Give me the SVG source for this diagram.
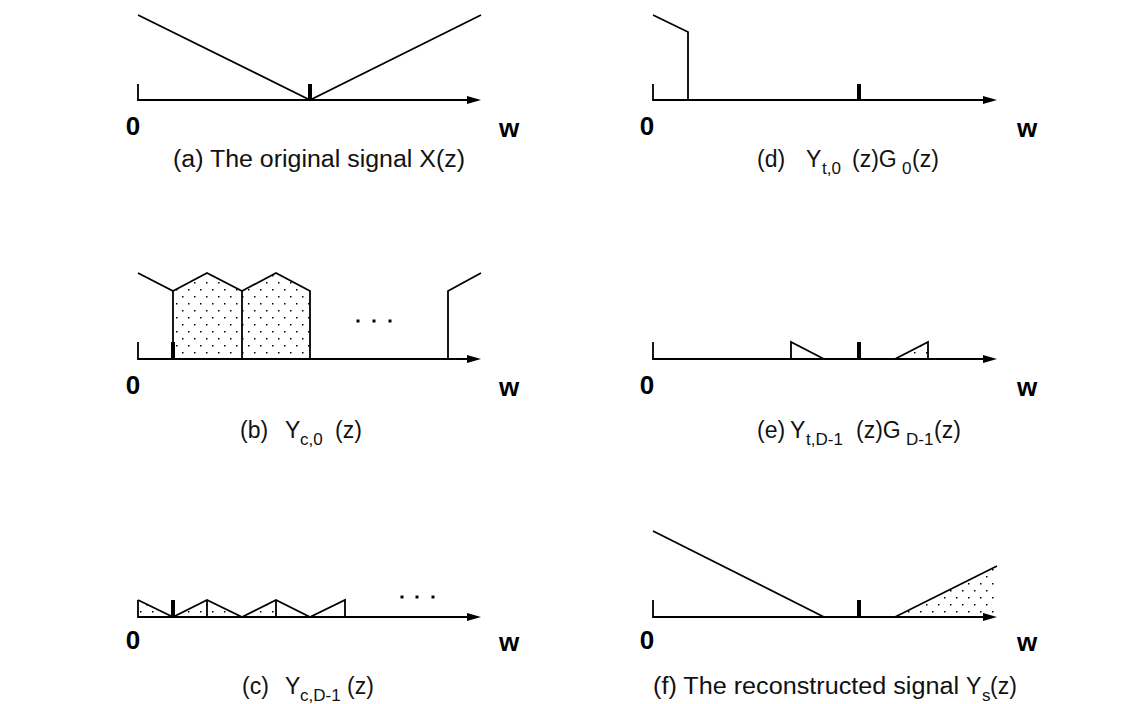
<svg xmlns="http://www.w3.org/2000/svg" width="1143" height="704" viewBox="0 0 1143 704">
<style>
.ln{fill:none;stroke:#000;stroke-width:1.8;stroke-linejoin:miter}
.tk{fill:#000}
.ah{fill:#000}
.dot{fill:url(#dots);stroke:none}
.lbl{font-family:"Liberation Sans",Arial,sans-serif;font-weight:bold;font-size:26px;fill:#000;text-anchor:middle}
.cap{font-family:"Liberation Sans",Arial,sans-serif;font-size:23px;fill:#111}
.sub{font-size:17px}
</style>
<defs>
<pattern id="dots" x="0" y="0" width="12" height="14" patternUnits="userSpaceOnUse">
<rect x="2" y="2" width="1.5" height="1.5" fill="#000"/>
<rect x="8" y="9" width="1.5" height="1.5" fill="#000"/>
</pattern>
</defs>
<rect width="1143" height="704" fill="#fff"/>

<g id="panel-a">
<polyline class="ln" points="138,84 138,100 470,100"/>
<polygon class="ah" points="481,100 467,96 467,104"/>
<rect class="tk" x="308" y="84" width="4" height="16"/>
<polyline class="ln" points="138,15 310,100 481,15"/>
<text class="lbl" x="133" y="135">0</text>
<text class="lbl" x="509" y="137">w</text>
<text class="cap" x="173" y="167" textLength="292" lengthAdjust="spacingAndGlyphs">(a)  The original signal X(z)</text>
</g>

<g id="panel-d">
<polyline class="ln" points="653,84 653,100 986,100"/>
<polygon class="ah" points="997,100 983,96 983,104"/>
<rect class="tk" x="857" y="84" width="4" height="16"/>
<polyline class="ln" points="653,15 688,32 688,100"/>
<text class="lbl" x="647" y="135">0</text>
<text class="lbl" x="1027" y="137">w</text>
<text class="cap" y="167"><tspan x="757">(d)</tspan><tspan x="806">Y</tspan><tspan class="sub" x="822" dy="7">t,0</tspan><tspan x="852" dy="-7">(z)G</tspan><tspan class="sub" x="902" dy="7">0</tspan><tspan x="912" dy="-7">(z)</tspan></text>
</g>

<g id="panel-b">
<polygon class="dot" points="173,359 173,291 207,273 242,291 276,273 310,291 310,359"/>
<polyline class="ln" points="138,342 138,359 470,359"/>
<polygon class="ah" points="481,359 467,355 467,363"/>
<polyline class="ln" points="138,273 173,291 207,273 242,291 276,273 310,291 310,359"/>
<line class="ln" x1="173" y1="291" x2="173" y2="359"/>
<line class="ln" x1="242" y1="291" x2="242" y2="359"/>
<rect class="tk" x="171" y="342" width="4" height="17"/>
<rect class="tk" x="356.5" y="319.5" width="3" height="3"/>
<rect class="tk" x="372.5" y="319.5" width="3" height="3"/>
<rect class="tk" x="388.5" y="319.5" width="3" height="3"/>
<polyline class="ln" points="448,359 448,291 481,273"/>
<text class="lbl" x="133" y="394">0</text>
<text class="lbl" x="509" y="396">w</text>
<text class="cap" y="438"><tspan x="240">(b)</tspan><tspan x="285">Y</tspan><tspan class="sub" x="300" dy="7">c,0</tspan><tspan x="335" dy="-7">(z)</tspan></text>
</g>

<g id="panel-e">
<polygon class="dot" points="895,359 928,342 928,359"/>
<polyline class="ln" points="653,342 653,359 986,359"/>
<polygon class="ah" points="997,359 983,355 983,363"/>
<polyline class="ln" points="791,359 791,342 824,359"/>
<rect class="tk" x="857" y="342" width="4" height="17"/>
<polyline class="ln" points="895,359 928,342 928,359"/>
<text class="lbl" x="647" y="394">0</text>
<text class="lbl" x="1027" y="396">w</text>
<text class="cap" y="438"><tspan x="757">(e)</tspan><tspan x="790">Y</tspan><tspan class="sub" x="806" dy="7">t,D-1</tspan><tspan x="856" dy="-7">(z)G</tspan><tspan class="sub" x="906" dy="7">D-1</tspan><tspan x="934" dy="-7">(z)</tspan></text>
</g>

<g id="panel-c">
<polygon class="dot" points="138,617 138,600 173,617 207,600 242,617 276,600 276,617"/>
<polyline class="ln" points="138,600 138,617 470,617"/>
<polygon class="ah" points="481,617 467,613 467,621"/>
<polyline class="ln" points="138,600 173,617 207,600 242,617 276,600 310,617 345,600 345,617"/>
<line class="ln" x1="207" y1="600" x2="207" y2="617"/>
<line class="ln" x1="276" y1="600" x2="276" y2="617"/>
<rect class="tk" x="171" y="600" width="4" height="17"/>
<rect class="tk" x="400.5" y="595.5" width="3" height="3"/>
<rect class="tk" x="415.5" y="595.5" width="3" height="3"/>
<rect class="tk" x="431.5" y="595.5" width="3" height="3"/>
<text class="lbl" x="133" y="649">0</text>
<text class="lbl" x="509" y="651">w</text>
<text class="cap" y="694"><tspan x="242">(c)</tspan><tspan x="285">Y</tspan><tspan class="sub" x="300" dy="7">c,D-1</tspan><tspan x="347" dy="-7">(z)</tspan></text>
</g>

<g id="panel-f">
<polygon class="dot" points="895,617 997,566 997,617"/>
<polyline class="ln" points="653,600 653,617 986,617"/>
<polygon class="ah" points="997,617 983,613 983,621"/>
<polyline class="ln" points="653,531 824,617"/>
<rect class="tk" x="857" y="600" width="4" height="17"/>
<polyline class="ln" points="895,617 997,566"/>
<text class="lbl" x="647" y="649">0</text>
<text class="lbl" x="1027" y="651">w</text>
<text class="cap" y="694"><tspan x="653" textLength="306" lengthAdjust="spacingAndGlyphs">(f)  The reconstructed signal</tspan><tspan x="966">Y</tspan><tspan class="sub" x="982" dy="7">s</tspan><tspan x="990" dy="-7">(z)</tspan></text>
</g>
</svg>
